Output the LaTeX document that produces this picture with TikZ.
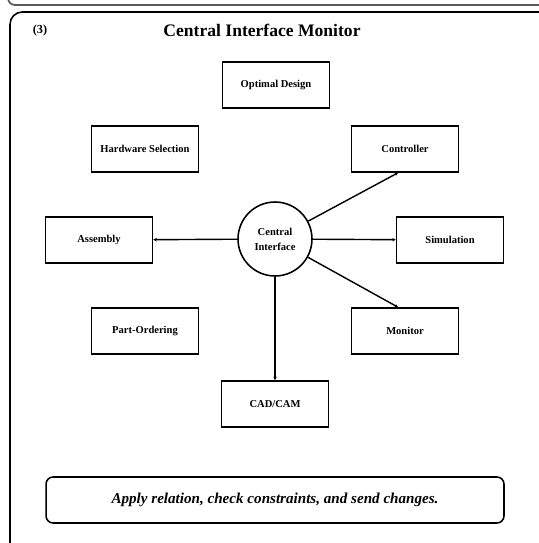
\documentclass[tikz,border=0pt]{standalone}
\usepackage{fontspec}
\setmainfont{Liberation Serif}
\usetikzlibrary{arrows.meta, calc}

\begin{document}
\begin{tikzpicture}[x=0.02cm, y=-0.02cm,
    unit/.style={draw, line width=0.9pt, minimum width=2.14cm, minimum height=0.92cm,
                 font=\fontsize{6}{7}\selectfont\bfseries},
    hub/.style={draw, circle, line width=0.9pt, minimum size=1.48cm, inner sep=0pt,
                align=center, font=\fontsize{6}{8.5}\selectfont\bfseries},
    link/.style={line width=0.8pt, -{Stealth[length=2pt, width=2pt]}}]

\useasboundingbox (0,0) rectangle (538,543);

% ── Frames ──
\draw[line width=1pt, gray!70!black, rounded corners=4] (8,-3) |- (545,5);
\draw[line width=0.9pt, rounded corners=7] (10,550) |- (545,12);

% ── Title ──
\node[font=\fontsize{7}{8}\selectfont\bfseries] (num) at (40,31) {(3)};
\node[font=\fontsize{10}{12}\selectfont\bfseries] (title) at (262,30) {Central Interface Monitor};

% ── Hub ──
\node[hub] (ci) at (275,239) {Central\\Interface};

% ── Modules ──
\node[unit] (opt)  at (276,85)  {Optimal Design};
\node[unit] (hw)   at (145,149) {Hardware Selection};
\node[unit] (ctrl) at (405,149) {Controller};
\node[unit] (asm)  at (99,240)  {Assembly};
\node[unit] (sim)  at (450,240) {Simulation};
\node[unit] (part) at (145,331) {Part-Ordering};
\node[unit] (mon)  at (405,331) {Monitor};
\node[unit] (cad)  at (275,404) {CAD/CAM};

% ── Links from the hub ──
\draw[link] (ci) -- ($(ctrl.south)+(-7,0)$);
\draw[link] (ci) -- (asm);
\draw[link] (ci) -- (sim);
\draw[link] (ci) -- ($(mon.north)+(-7,0)$);
\draw[link] (ci) -- (cad);

% ── Action box ──
\node[draw, line width=0.9pt, rounded corners=4, minimum width=9.16cm, minimum height=0.92cm,
      font=\fontsize{8.6}{10}\selectfont\bfseries\itshape] (act) at (275,500)
      {Apply relation, check constraints, and send changes.};

\end{tikzpicture}
\end{document}
